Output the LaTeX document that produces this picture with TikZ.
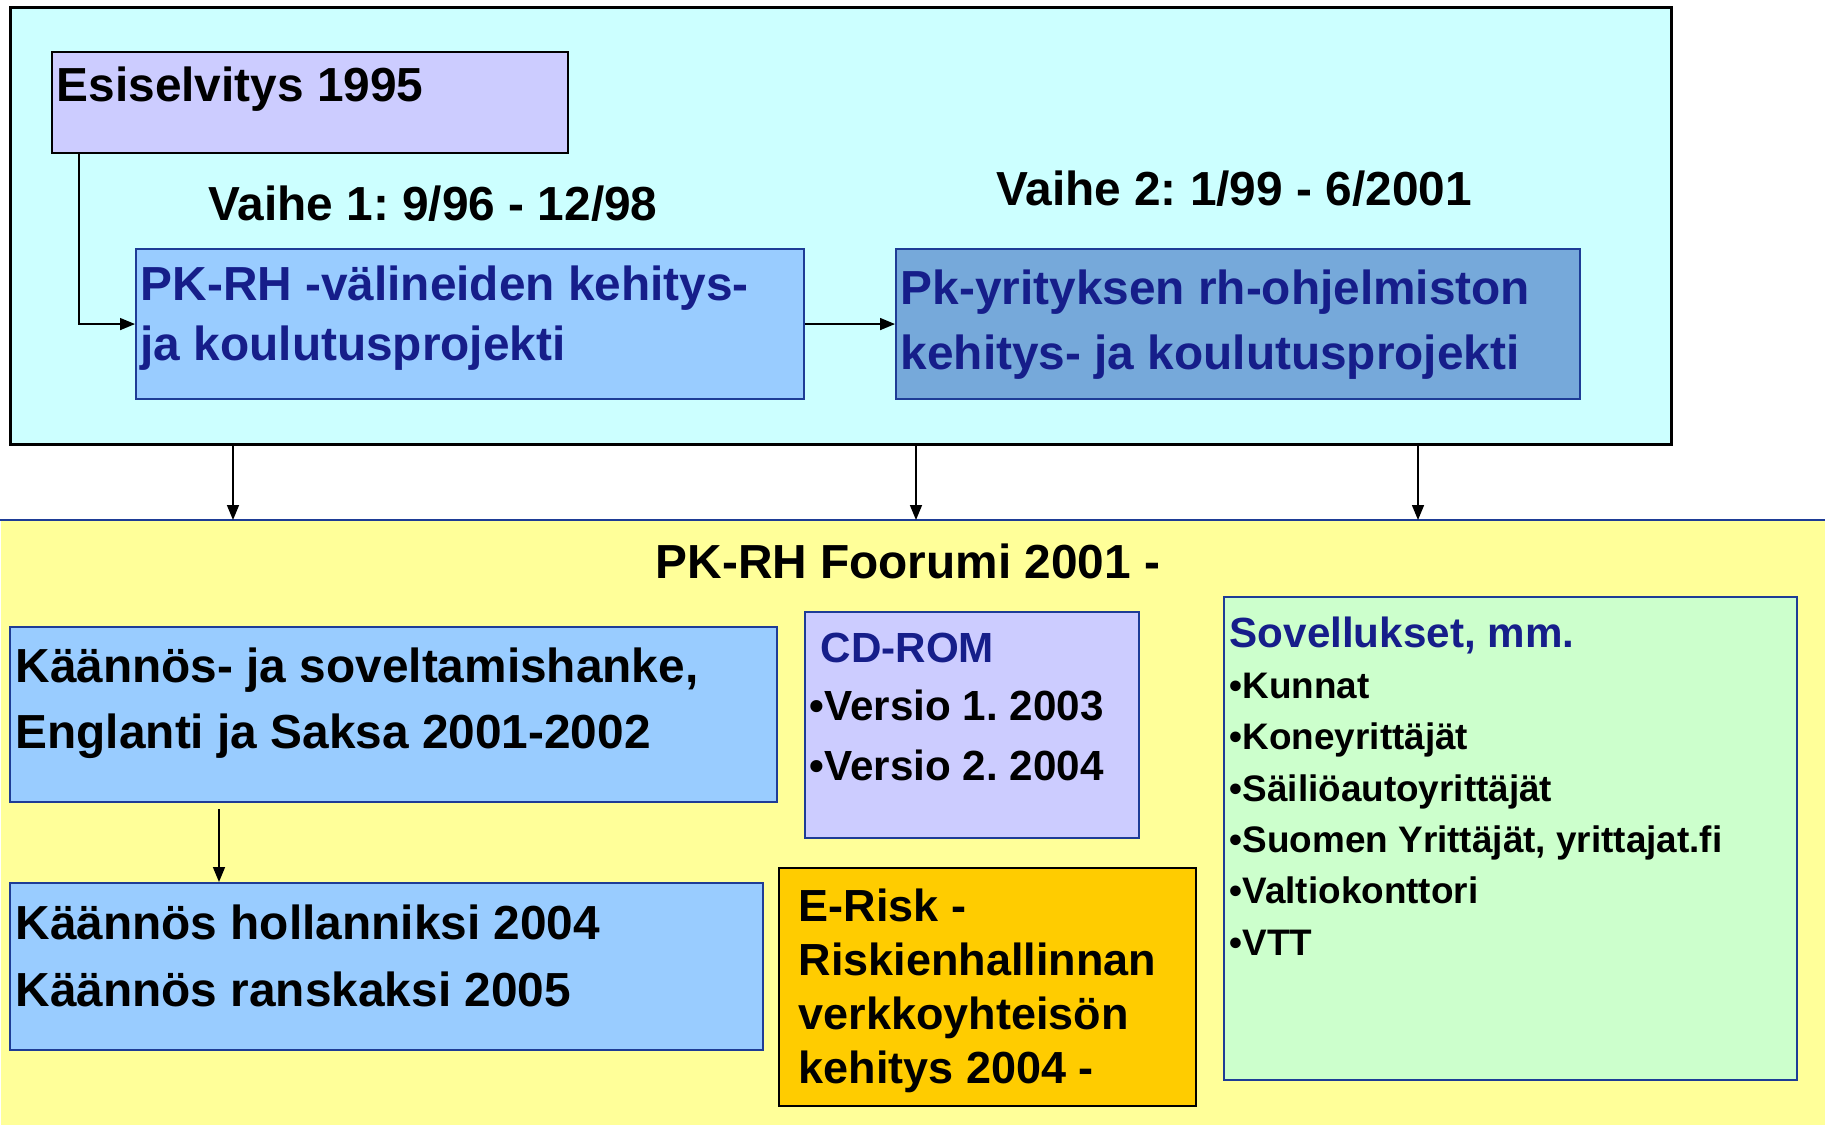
\documentclass[tikz,border=0pt]{standalone}
\usepackage{fontspec}
\setmainfont{Liberation Sans}
\usetikzlibrary{arrows.meta}
\frenchspacing

\definecolor{cyanbg}{HTML}{CCFFFF}
\definecolor{yellowbg}{HTML}{FFFF99}
\definecolor{lavender}{HTML}{CCCCFF}
\definecolor{lightblue}{HTML}{99CCFF}
\definecolor{midblue}{RGB}{118,169,218}
\definecolor{orangebg}{HTML}{FFCC00}
\definecolor{greenbg}{HTML}{CCFFCC}
\definecolor{boxblue}{RGB}{30,60,150}
\definecolor{navy}{RGB}{22,30,138}

\tikzset{
  box/.style={draw=boxblue, line width=0.6pt, anchor=north west, inner sep=0pt},
  txt/.style={anchor=base west, inner sep=0pt, align=left},
  big/.style={font=\bfseries\fontsize{13.6}{17.2}\selectfont},
  arr/.style={-{Triangle[length=1.5mm,width=1.2mm]}, line width=0.45pt},
}

\begin{document}
\begin{tikzpicture}[x=0.1mm, y=-0.1mm]
\useasboundingbox (0,0) rectangle (1825,1125);

% background areas
\node[anchor=north west, fill=yellowbg, inner sep=0pt, minimum width=182.5mm, minimum height=60.5mm] (forum) at (0,520) {};
\draw[boxblue, line width=0.6pt] (forum.north west) -- (forum.north east);
\node[box, draw=black, line width=0.8pt, fill=cyanbg, minimum width=166.1mm, minimum height=43.7mm] (top) at (9,6) {};

% upper boxes
\node[box, draw=black, fill=lavender, minimum width=51.6mm, minimum height=10.1mm] (esi) at (51,51) {};
\node[box, fill=lightblue, minimum width=66.8mm, minimum height=15mm] (pkrh) at (135,248) {};
\node[box, fill=midblue, minimum width=68.4mm, minimum height=15mm] (pky) at (895,248) {};

% multi-line texts sit on the baseline of their last line
\node[txt, big] (esitxt) at (56,102) {Esiselvitys 1995};
\node[big, anchor=base, inner sep=0pt] (vaihe1) at (433,221) {Vaihe 1: 9/96 - 12/98};
\node[big, anchor=base, inner sep=0pt] (vaihe2) at (1234,206) {Vaihe 2: 1/99 - 6/2001};
\node[txt, big, text=navy] (pkrhtxt) at (140,361) {PK-RH -välineiden kehitys-\\ja koulutusprojekti};
\node[txt, text=navy, font=\bfseries\fontsize{13.6}{18.5}\selectfont] (pkytxt) at (900,370) {Pk-yrityksen rh-ohjelmiston\\kehitys- ja koulutusprojekti};

\draw[arr] ([xshift=2.8mm]esi.south west) |- (pkrh.west);
\draw[arr] (pkrh.east) -- (pky.west);

% arrows down to the forum
\coordinate (d1) at (233,0);
\coordinate (d2) at (916,0);
\coordinate (d3) at (1418,0);
\draw[arr] (top.south -| d1) -- (forum.north -| d1);
\draw[arr] (top.south -| d2) -- (forum.north -| d2);
\draw[arr] (top.south -| d3) -- (forum.north -| d3);

\node[big, anchor=base, inner sep=0pt] (fortxt) at (908,578) {PK-RH Foorumi 2001 -};

% lower boxes
\node[box, fill=lightblue, minimum width=76.7mm, minimum height=17.5mm] (kaan1) at (9,626) {};
\node[box, fill=lightblue, minimum width=75.3mm, minimum height=16.7mm] (kaan2) at (9,882) {};
\node[box, fill=lavender, minimum width=33.4mm, minimum height=22.6mm] (cdrom) at (804,611) {};
\node[box, draw=black, fill=orangebg, minimum width=41.7mm, minimum height=23.8mm] (erisk) at (778,867) {};
\node[box, fill=greenbg, minimum width=57.3mm, minimum height=48.3mm] (sovel) at (1223,596) {};

\draw[arr, shorten <=0.6mm] (kaan1.south -| 219,0) -- (kaan2.north -| 219,0);

\node[txt, font=\bfseries\fontsize{13.6}{18.6}\selectfont] (kaan1txt) at (15,748) {Käännös- ja soveltamishanke,\\Englanti ja Saksa 2001-2002};
\node[txt, font=\bfseries\fontsize{13.6}{19}\selectfont] (kaan2txt) at (15,1006) {Käännös hollanniksi 2004\\Käännös ranskaksi 2005};
\node[txt, text=navy, font=\bfseries\fontsize{12}{14}\selectfont] (cdtitle) at (820,662) {CD-ROM};
\node[txt, font=\bfseries\fontsize{12}{16.8}\selectfont] (cditems) at (809,780) {•Versio 1. 2003\\•Versio 2. 2004};
\node[txt, font=\bfseries\fontsize{12.8}{15.3}\selectfont] (erisktxt) at (798,1083) {E-Risk -\\Riskienhallinnan\\verkkoyhteisön\\kehitys 2004 -};
\node[txt, text=navy, font=\bfseries\fontsize{12}{14}\selectfont] (sovtitle) at (1229,647) {Sovellukset, mm.};
\node[txt, font=\bfseries\fontsize{10.5}{14.6}\selectfont] (sovitems) at (1229,955) {•Kunnat\\•Koneyrittäjät\\•Säiliöautoyrittäjät\\•Suomen Yrittäjät, yrittajat.fi\\•Valtiokonttori\\•VTT};
\end{tikzpicture}
\end{document}
